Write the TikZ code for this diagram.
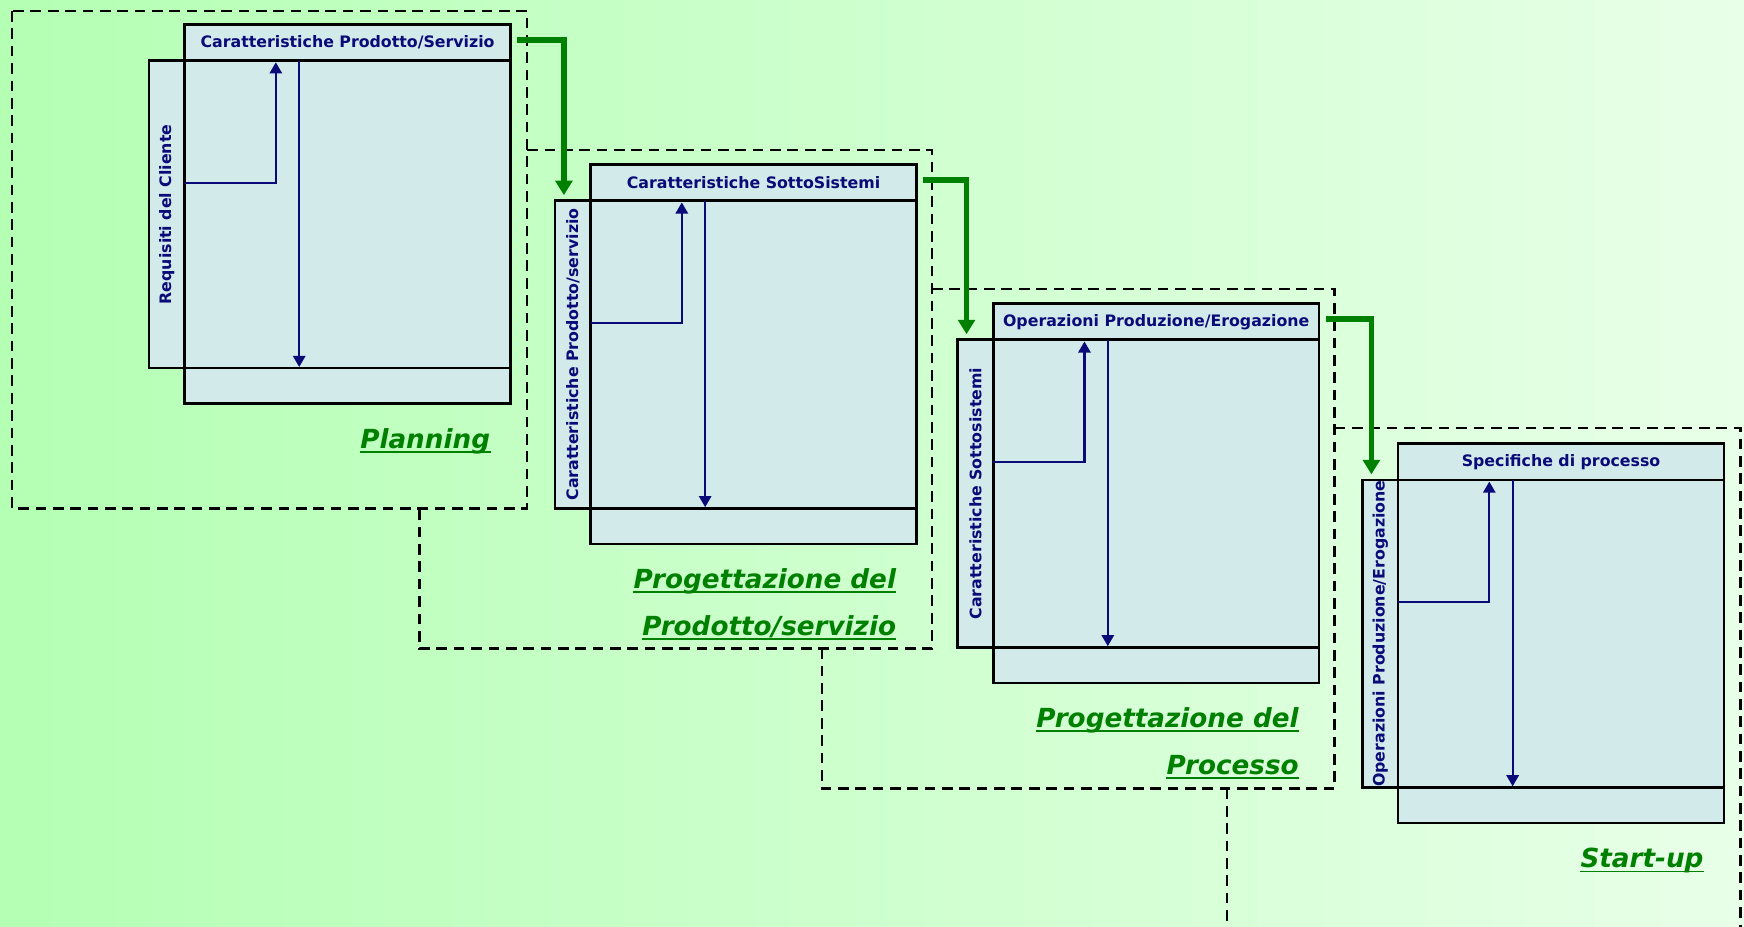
\documentclass[tikz,border=0pt]{standalone}
\usepackage{fontspec}
\setmainfont{DejaVu Sans}
\usetikzlibrary{arrows.meta,calc}
\definecolor{bgL}{RGB}{180,255,180}
\definecolor{bgR}{RGB}{232,255,232}
\definecolor{boxfill}{RGB}{210,234,234}
\definecolor{navy}{RGB}{10,10,120}
\definecolor{dgreen}{RGB}{0,128,0}
\tikzset{
  pbox/.style={draw=black, line width=1.2pt, fill=boxfill, inner sep=0pt, outer sep=0pt, anchor=north west},
  hdr/.style={pbox, minimum width=146.5pt, minimum height=16.25pt, font=\fontsize{7.1}{8}\selectfont\bfseries, text=navy},
  mainbox/.style={pbox, minimum width=146.5pt, minimum height=138.25pt},
  botbox/.style={pbox, minimum width=146.5pt, minimum height=16pt},
  sidebox/.style={pbox, minimum width=16pt, minimum height=138.25pt},
  sidetext/.style={rotate=90, inner sep=0pt, font=\fontsize{7.1}{8}\selectfont\bfseries, text=navy},
  inner/.style={draw=navy, line width=1pt, -{Triangle[width=5.5pt,length=5pt]}},
  garrow/.style={draw=dgreen, line width=2.6pt, -{Triangle[width=7.5pt,length=6.5pt]}},
  phase/.style={draw=black, line width=1.1pt, dash pattern=on 4.8pt off 3pt},
  lbl/.style={inner sep=0pt, anchor=base east, font=\fontsize{11.8}{14}\selectfont\bfseries\itshape, text=dgreen},
  uline/.style={draw=dgreen, line width=0.8pt}
}
\newcommand{\mystage}[5]{%
  \node[mainbox] (m#1) at (#2,#3+32.5) {};
  \node[sidebox, anchor=north east] (s#1) at (m#1.north west) {};
  \node[hdr] (h#1) at (#2,#3) {#4};
  \node[botbox] (b#1) at (m#1.south west) {};
  \node[sidetext] (t#1) at (s#1.center) {#5};
  \draw[inner] ($(m#1.north west)+(0,110)$) -| ($(m#1.north west)+(82,1.5)$);
  \draw[inner] ($(m#1.north west)+(103,0)$) -- ($(m#1.south west)+(103,-1)$);
}
\newcommand{\ul}[1]{\draw[uline] ($(#1.base west)+(0,3.5)$) -- ($(#1.base east)+(0,3.5)$);}
\begin{document}
\begin{tikzpicture}[x=0.5pt,y=-0.5pt]
\useasboundingbox (0,0) rectangle (1568,833);
\shade[left color=bgL, right color=bgR] (0,0) rectangle (1568,833);
\begin{scope}
\clip (0,0) rectangle (1568,833);
% phase frames
\draw[phase] (11,10) rectangle (474,457);
\draw[phase] (474,135) -- (838,135) -- (838,583) -- (377,583) -- (377,457);
\draw[phase] (838,260) -- (1200,260) -- (1200,709) -- (739,709) -- (739,583);
\draw[phase] (1200,385) -- (1565,385) -- (1565,845);
\draw[phase] (1103,709) -- (1103,845);
\end{scope}
% stages
\mystage{1}{166}{22}{Caratteristiche Prodotto/Servizio}{Requisiti del Cliente}
\mystage{2}{531}{148}{Caratteristiche SottoSistemi}{Caratteristiche Prodotto/servizio}
\mystage{3}{893}{273}{Operazioni Produzione/Erogazione}{Caratteristiche Sottosistemi}
\mystage{4}{1257}{399}{Specifiche di processo}{Operazioni Produzione/Erogazione}
% green transfer arrows
\draw[garrow] ($(h1.east)+(6,-2.5)$) -| ($(s2.north)+(-8,-5)$);
\draw[garrow] ($(h2.east)+(6,-2.5)$) -| ($(s3.north)+(-8,-5)$);
\draw[garrow] ($(h3.east)+(6,-2.5)$) -| ($(s4.north)+(-8,-5)$);
% phase labels
\node[lbl] (L1) at ($(b1.south east)+(-18,40)$) {Planning};
\node[lbl] (L2a) at ($(b2.south east)+(-18,40)$) {Progettazione del};
\node[lbl] (L2b) at ($(b2.south east)+(-18,82)$) {Prodotto/servizio};
\node[lbl] (L3a) at ($(b3.south east)+(-18,40)$) {Progettazione del};
\node[lbl] (L3b) at ($(b3.south east)+(-18,82)$) {Processo};
\node[lbl] (L4) at ($(b4.south east)+(-18,40)$) {Start-up};
\ul{L1}\ul{L2a}\ul{L2b}\ul{L3a}\ul{L3b}\ul{L4}
\end{tikzpicture}
\end{document}
